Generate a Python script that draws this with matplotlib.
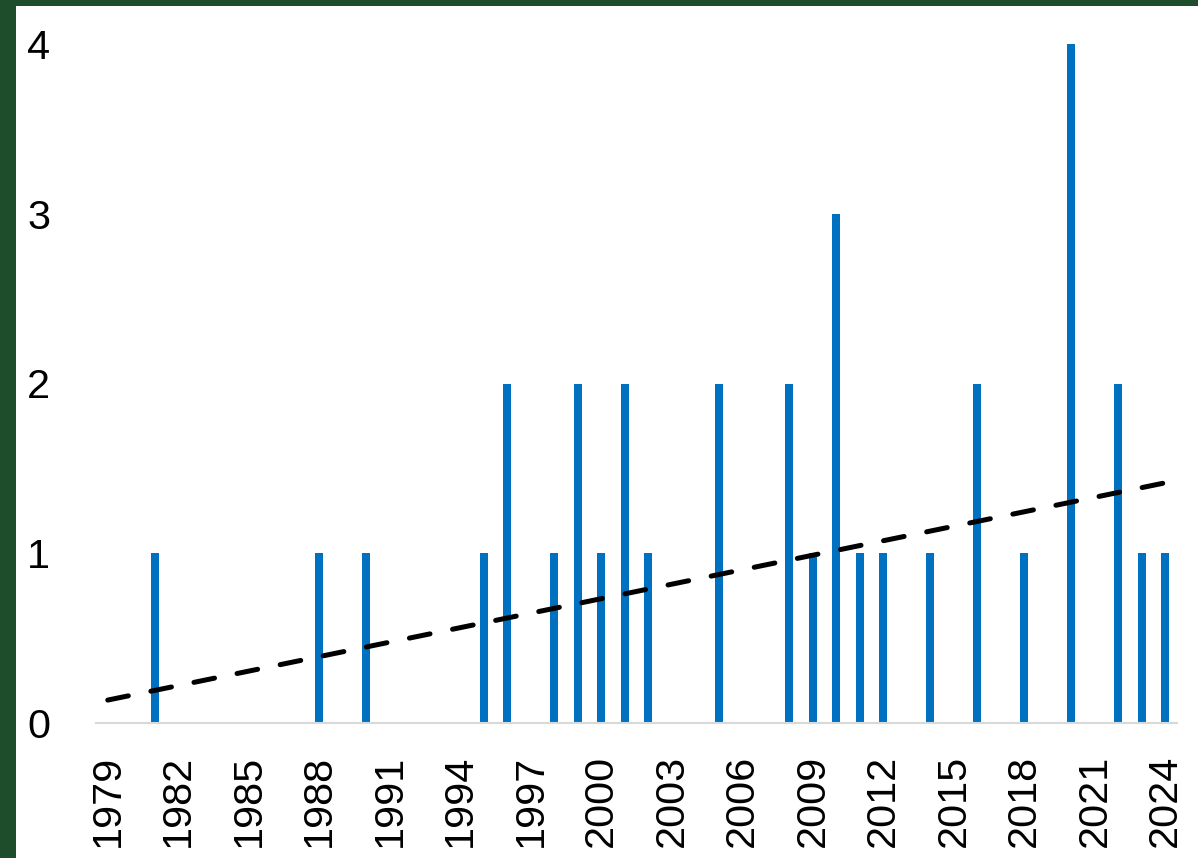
import numpy as np
import matplotlib
matplotlib.use("Agg")
import matplotlib.pyplot as plt
from matplotlib.patches import Rectangle

years = list(range(1979, 2025))
event_years = [1981, 1988, 1990, 1995, 1996, 1998, 1999, 2000, 2001, 2002,
               2005, 2008, 2009, 2010, 2011, 2012, 2014, 2016, 2018, 2020,
               2022, 2023, 2024]
event_counts = [1, 1, 1, 1, 2, 1, 2, 1, 2, 1,
                2, 2, 1, 3, 1, 1, 1, 2, 1, 4,
                2, 1, 1]
# linear trend line (value at first and last year)
trend_years = [1979, 2024]
trend_values = [0.135, 1.415]
tick_years = list(range(1979, 2025, 3))
y_ticks = [0, 1, 2, 3, 4]

counts = {y: 0 for y in years}
for y, c in zip(event_years, event_counts):
    counts[y] = c
values = np.array([counts[y] for y in years], dtype=float)
xs = np.array(years, dtype=float)

plt.rcParams['font.family'] = ['Liberation Sans', 'DejaVu Sans']

W, H = 1198, 858
fig = plt.figure(figsize=(W / 100, H / 100), dpi=100)
fig.patch.set_facecolor('#1e4d2b')
bg = Rectangle((16 / W, 0), 1 - 16 / W, 1 - 6 / H,
               transform=fig.transFigure, facecolor='white',
               edgecolor='none', zorder=-10)
fig.patches.append(bg)

ax = fig.add_axes([96 / W, (H - 723) / H, (1177 - 96) / W, (723 - 44) / H])
ax.set_zorder(5)
ax.set_facecolor('none')

ax.bar(xs, values, width=0.34, color='#0070c0', zorder=2)

ax.plot(trend_years, trend_values, color='black', lw=3.6,
        linestyle=(0, (4.2, 4.6)), dash_capstyle='round', zorder=3)

ax.set_xlim(1978.5, 2024.5)
ax.set_ylim(0, 4)
ax.set_xticks(tick_years)
ax.set_xticklabels([str(y) for y in tick_years], rotation=90, fontsize=29.8)
ax.set_yticks(y_ticks)
ax.set_yticklabels([str(v) for v in y_ticks], fontsize=29.8)
ax.tick_params(axis='x', length=0, pad=23)
ax.tick_params(axis='y', length=0, pad=33)

for s in ['top', 'right', 'left']:
    ax.spines[s].set_visible(False)
ax.spines['bottom'].set_color('#d9d9d9')
ax.spines['bottom'].set_linewidth(1.5)

fig.savefig('out.png', dpi=100, facecolor=fig.get_facecolor())
